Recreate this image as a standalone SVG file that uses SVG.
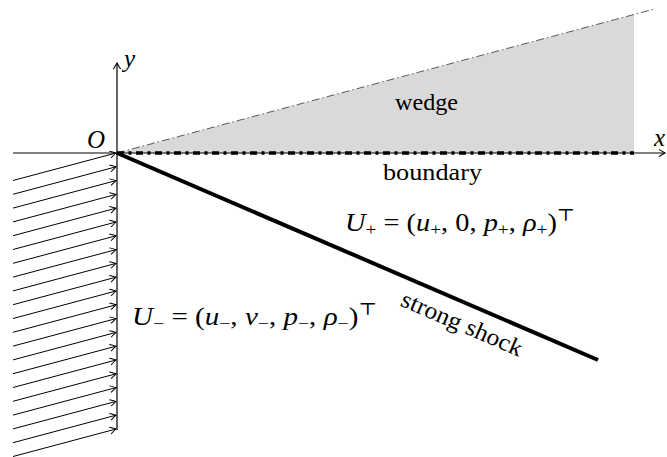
<svg xmlns="http://www.w3.org/2000/svg" width="667" height="457" viewBox="0 0 667 457">
<style>
.t{font-family:"Liberation Serif","DejaVu Serif",serif;font-size:24px;fill:#000}
.m{font-size:25px}
.i{font-style:italic}
.s{font-size:17px}
.ax{stroke:#000;stroke-width:1.2;fill:none}
.flow{stroke:#000;stroke-width:1;fill:none}
</style>
<defs>
<marker id="ah" viewBox="-8 -5 10 10" refX="0" refY="0" markerWidth="10" markerHeight="10" markerUnits="userSpaceOnUse" orient="auto">
<path d="M-6,-3.6 Q-1.5,-0.8 0,0 Q-1.5,0.8 -6,3.6" fill="none" stroke="#000" stroke-width="1.1"/>
</marker>
<marker id="fh" viewBox="-8 -5 10 10" refX="0" refY="0" markerWidth="10" markerHeight="10" markerUnits="userSpaceOnUse" orient="auto">
<path d="M-6,-3.4 Q-1.5,-0.8 0,0 Q-1.5,0.8 -6,3.4" fill="none" stroke="#000" stroke-width="1"/>
</marker>
</defs>
<g id="wedge">
<polygon points="117,153 634,153 634,14.5" fill="#d9d9d9"/>
<line x1="117" y1="153" x2="653" y2="9.4" stroke="#333" stroke-width="0.8" stroke-dasharray="8 3 1.5 3"/>
<text class="t" x="426.5" y="110" text-anchor="middle" textLength="63" lengthAdjust="spacingAndGlyphs">wedge</text>
</g>
<g id="connectors">
<line class="ax" x1="13" y1="153" x2="665" y2="153" marker-end="url(#ah)"/>
<line class="ax" x1="117" y1="430" x2="117" y2="63" marker-end="url(#ah)"/>
<g id="inflow" class="flow">
<line x1="13" y1="180.5" x2="116" y2="153" marker-end="url(#fh)"/>
<line x1="13" y1="194.3" x2="116" y2="166.8" marker-end="url(#fh)"/>
<line x1="13" y1="208.1" x2="116" y2="180.6" marker-end="url(#fh)"/>
<line x1="13" y1="221.9" x2="116" y2="194.4" marker-end="url(#fh)"/>
<line x1="13" y1="235.7" x2="116" y2="208.2" marker-end="url(#fh)"/>
<line x1="13" y1="249.5" x2="116" y2="222" marker-end="url(#fh)"/>
<line x1="13" y1="263.3" x2="116" y2="235.8" marker-end="url(#fh)"/>
<line x1="13" y1="277.1" x2="116" y2="249.6" marker-end="url(#fh)"/>
<line x1="13" y1="290.9" x2="116" y2="263.4" marker-end="url(#fh)"/>
<line x1="13" y1="304.7" x2="116" y2="277.2" marker-end="url(#fh)"/>
<line x1="13" y1="318.5" x2="116" y2="291" marker-end="url(#fh)"/>
<line x1="13" y1="332.3" x2="116" y2="304.8" marker-end="url(#fh)"/>
<line x1="13" y1="346.1" x2="116" y2="318.6" marker-end="url(#fh)"/>
<line x1="13" y1="359.9" x2="116" y2="332.4" marker-end="url(#fh)"/>
<line x1="13" y1="373.7" x2="116" y2="346.2" marker-end="url(#fh)"/>
<line x1="13" y1="387.5" x2="116" y2="360" marker-end="url(#fh)"/>
<line x1="13" y1="401.3" x2="116" y2="373.8" marker-end="url(#fh)"/>
<line x1="13" y1="415.1" x2="116" y2="387.6" marker-end="url(#fh)"/>
<line x1="13" y1="428.9" x2="116" y2="401.4" marker-end="url(#fh)"/>
<line x1="13" y1="442.7" x2="116" y2="415.2" marker-end="url(#fh)"/>
<line x1="13" y1="456.5" x2="116" y2="429" marker-end="url(#fh)"/>
</g>
</g>
<g id="boundary">
<line x1="117" y1="153" x2="634" y2="153" stroke="#000" stroke-width="3.4" stroke-dasharray="7 4.5 3 4.5"/>
<text class="t" x="432.5" y="180" text-anchor="middle" textLength="99" lengthAdjust="spacingAndGlyphs">boundary</text>
</g>
<g id="shock">
<line x1="117" y1="153" x2="598" y2="360" stroke="#000" stroke-width="4"/>
<text class="t" x="459" y="331" text-anchor="middle" textLength="130" lengthAdjust="spacingAndGlyphs" transform="rotate(23.28 459 331)">strong shock</text>
</g>
<g id="labels">
<text class="t m i" x="87" y="148">O</text>
<text class="t m i" x="124" y="67">y</text>
<text class="t m i" x="654" y="146">x</text>
</g>
<g id="state-plus">
<text class="t m" x="345" y="231" textLength="230" lengthAdjust="spacingAndGlyphs"><tspan class="i">U</tspan><tspan class="s" dy="4">+</tspan><tspan dy="-4"> = (</tspan><tspan class="i">u</tspan><tspan class="s" dy="4">+</tspan><tspan dy="-4">, 0, </tspan><tspan class="i">p</tspan><tspan class="s" dy="4">+</tspan><tspan dy="-4">, </tspan><tspan class="i">ρ</tspan><tspan class="s" dy="4">+</tspan><tspan dy="-4">)</tspan><tspan class="s" dy="-10">⊤</tspan></text>
</g>
<g id="state-minus">
<text class="t m" x="132" y="325" textLength="245" lengthAdjust="spacingAndGlyphs"><tspan class="i">U</tspan><tspan class="s" dy="4">−</tspan><tspan dy="-4"> = (</tspan><tspan class="i">u</tspan><tspan class="s" dy="4">−</tspan><tspan dy="-4">, </tspan><tspan class="i">v</tspan><tspan class="s" dy="4">−</tspan><tspan dy="-4">, </tspan><tspan class="i">p</tspan><tspan class="s" dy="4">−</tspan><tspan dy="-4">, </tspan><tspan class="i">ρ</tspan><tspan class="s" dy="4">−</tspan><tspan dy="-4">)</tspan><tspan class="s" dy="-10">⊤</tspan></text>
</g>
</svg>
